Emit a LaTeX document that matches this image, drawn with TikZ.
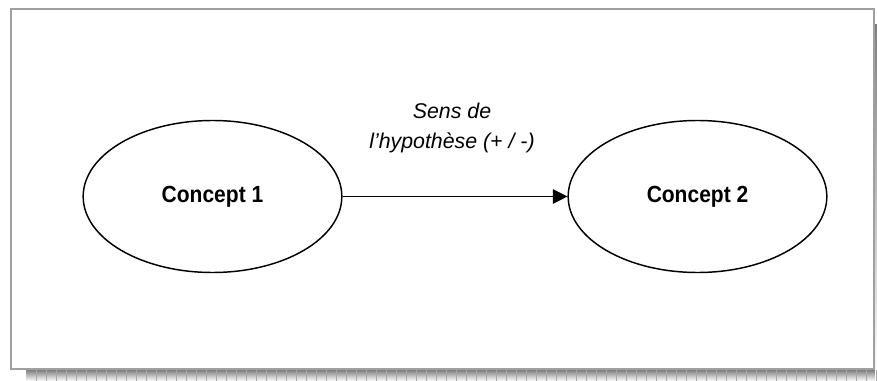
\documentclass[tikz,border=0pt]{standalone}
\usepackage{fontspec}
\setmainfont{Liberation Sans}[BoldFeatures={FakeStretch=0.9}]
\usepackage{xcolor}
\usepackage{tikz}
\usetikzlibrary{shapes.geometric,arrows.meta}
\definecolor{frame}{HTML}{A0A0A0}
\definecolor{shade}{HTML}{BDBDBD}
\definecolor{shadeline}{HTML}{A8A8A8}
\tikzset{
  frame/.style={draw=frame, line width=1.6pt},
  concept/.style={ellipse, draw=black, line width=1.1pt, minimum width=194pt, minimum height=114pt,
    font=\fontsize{17.5}{20}\selectfont\bfseries},
  link/.style={draw=black, line width=0.9pt, -{Triangle[length=11pt, width=11pt]}},
  lab/.style={font=\fontsize{16}{22}\selectfont\itshape, align=center},
}

\begin{document}
\begin{tikzpicture}[x=0.75pt, y=-0.75pt]
  \useasboundingbox (0,0) rectangle (877,381);
  % shadow
  \fill[shade] (26,370) rectangle (877,381);
  \fill[shade] (875,25) rectangle (877,381);
  \foreach \x in {36,46,...,876}
    \draw[shadeline, line width=0.6pt] (\x,370) -- (\x,381);
  \draw[frame] (11,9) rectangle (874,369);
  % concepts
  \node[concept] (c1) at (212.5,196.5) {Concept 1};
  \node[concept] (c2) at (697.5,196.5) {Concept 2};
  \draw[link] (c1) -- (c2);
  \node[lab] (hyp) at (452,128) {Sens de\\l’hypothèse (+ / -)};
\end{tikzpicture}
\end{document}
